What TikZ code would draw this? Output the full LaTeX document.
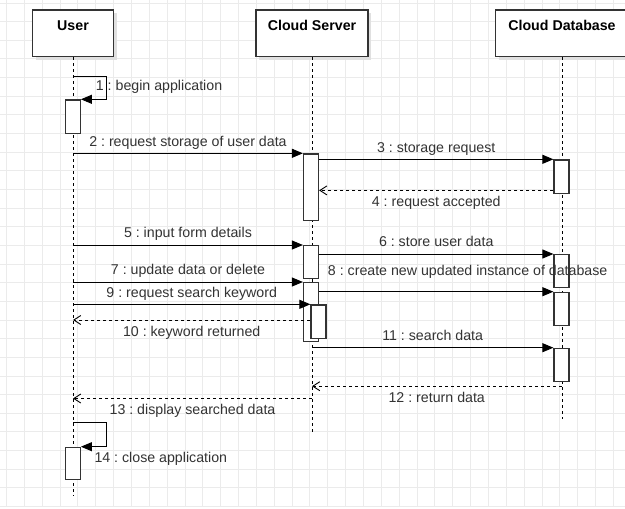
\documentclass[tikz,border=0pt]{standalone}
\usepackage{fontspec}
\setmainfont{Liberation Sans}
\usepackage{tikz}
\usetikzlibrary{arrows.meta,shadows}
\definecolor{edge}{HTML}{333333}
\definecolor{gridline}{HTML}{EBEBEB}
\frenchspacing

\begin{document}
\begin{tikzpicture}[x=1pt, y=-1pt,
                    font=\fontsize{14.2}{16}\selectfont,
                    head/.style={draw=edge, line width=1.2pt, fill=white,
                                 drop shadow={shadow xshift=3pt, shadow yshift=-3pt, fill=black!12, opacity=1},
                                 minimum height=46.7pt, text height=10pt, text depth=16.7pt,
                                 inner ysep=10pt, font=\fontsize{14.2}{16}\selectfont\bfseries},
                    life/.style={dash pattern=on 3pt off 3pt, line width=0.8pt},
                    act/.style={draw=edge, line width=1.2pt, fill=white, minimum width=15pt,
                                inner sep=0pt, anchor=north},
                    msg/.style={-{Triangle[length=11pt,width=9pt]}, line width=0.9pt},
                    ret/.style={-{Straight Barb[length=7pt,width=9pt]}, dash pattern=on 3pt off 3pt, line width=0.9pt},
                    lbl/.style={text=black!80, anchor=base, inner sep=0pt},
                    above lbl/.style={lbl, yshift=7.3pt},
                    below lbl/.style={lbl, yshift=-16pt}]
  \useasboundingbox (0,0) rectangle (625,509);
  \clip (0,0) rectangle (625,509);
  \fill[white] (0,0) rectangle (625,509);
  % grid paper
  \foreach \gx in {0,...,34}
    \draw[gridline, line width=1pt] ({6.5+17.85*\gx},0) -- ++(0,507);
  \foreach \gy in {0,...,27}
    \draw[gridline, line width=1pt] (0,{3+18.65*\gy}) -- ++(625,0);

  \node[head, minimum width=81pt] (user) at (73,33.35) {User};
  \node[head, minimum width=112pt] (server) at (312,33.35) {Cloud Server};
  \node[head, minimum width=133pt] (db) at (562,33.35) {Cloud Database};

  \coordinate (user end) at (73,496);
  \coordinate (server end) at (312,431.7);
  \coordinate (db end) at (562,419);
  \draw[life] (user.south) -- (user end);
  \draw[life] (server.south) -- (server end);
  \draw[life] (db.south) -- (db end);

  % activation bars
  \node[act, minimum height=33.4pt] (u1) at (72.8,99.3) {};
  \node[act, minimum height=66.7pt] (s1) at (311,153.3) {};
  \node[act, minimum height=33.2pt] (d1) at (561.5,159.3) {};
  \node[act, minimum height=32.7pt] (s2) at (311,245) {};
  \node[act, minimum height=33pt] (d2) at (561.5,254) {};
  \node[act, minimum height=59pt] (s3) at (311,282) {};
  \node[act, minimum height=33.7pt] (s4) at (318.5,304.3) {};
  \node[act, minimum height=33.3pt] (d3) at (561.5,291.7) {};
  \node[act, minimum height=33.3pt] (d4) at (561.5,347.7) {};
  \node[act, minimum height=32.3pt] (u2) at (72.8,446.7) {};

  \coordinate (m1) at (73,76.7);
  \coordinate (m14) at (73,422.7);

  \draw[msg] (m1) -- ++(33.7,0) |- (u1.north east);
  \node[lbl, anchor=base west] at (95.7,90) {1 : begin application};
  \draw[msg] (s1.north west -| user) -- node[above lbl] {2 : request storage of user data} (s1.north west);
  \draw[msg] (s1.east |- d1.north west) -- node[above lbl] {3 : storage request} (d1.north west);
  \draw[ret] ([yshift=3.3pt]d1.south west) -- node[below lbl] {4 : request accepted} ([yshift=3.3pt]d1.south west -| s1.east);
  \draw[msg] (s2.north west -| user) -- node[above lbl] {5 : input form details} (s2.north west);
  \draw[msg] (s2.east |- d2.north west) -- node[above lbl] {6 : store user data} (d2.north west);
  \draw[msg] (s3.north west -| user) -- node[above lbl] {7 : update data or delete} (s3.north west);
  \draw[msg] (s3.east |- d3.north west) -- (d3.north west)
    node[pos=0, lbl, anchor=base west, xshift=8.4pt, yshift=16.7pt] {8 : create new updated instance of database};
  \draw[msg] (s4.north west -| user) -- node[above lbl] {9 : request search keyword} (s4.north west);
  \draw[ret] ([yshift=-15.7pt]s4.north west) -- node[below lbl] {10 : keyword returned} ([yshift=-15.7pt]s4.north west -| user);
  \draw[msg] (d4.north west -| server) -- node[above lbl] {11 : search data} (d4.north west);
  \draw[ret] ([yshift=-4pt]d4.south) -- node[below lbl] {12 : return data} ([yshift=-4pt]d4.south -| server);
  \draw[ret] ([yshift=-16.3pt]d4.south -| server) -- node[below lbl] {13 : display searched data} ([yshift=-16.3pt]d4.south -| user);
  \draw[msg] (m14) -- ++(33.7,0) |- (u2.north east);
  \node[lbl, anchor=base west] at (94.3,462.3) {14 : close application};
\end{tikzpicture}
\end{document}
